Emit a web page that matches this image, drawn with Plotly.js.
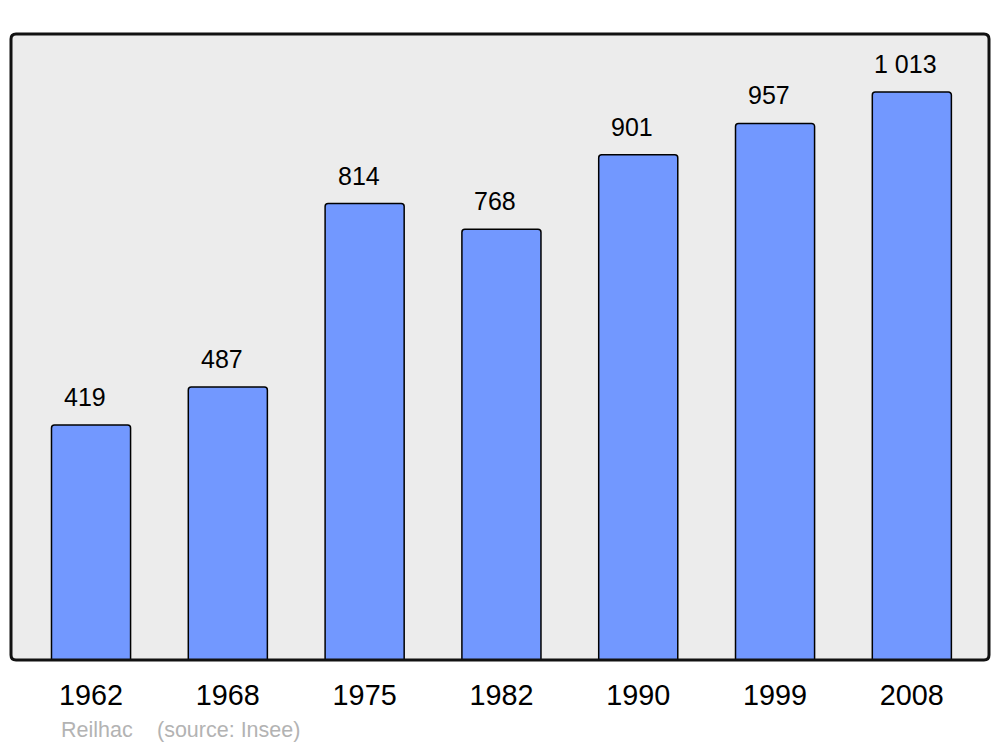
<!DOCTYPE html>
<html><head><meta charset="utf-8">
<script src="https://cdn.plot.ly/plotly-3.0.1.min.js"></script>
<style>html,body{margin:0;padding:0;background:#fff;}#chart{width:1000px;height:747px;}</style>
</head><body><div id="chart"></div>
<script>
const years = ["1962","1968","1975","1982","1990","1999","2008"];
const population = [419, 487, 814, 768, 901, 957, 1013];
const labels = population.map(v => v >= 1000 ? Math.floor(v/1000) + " " + String(v%1000).padStart(3,"0") : String(v));
const townName = "Reilhac";
const sourceText = "(source: Insee)";

const W = 1000, H = 747;
const L = 11, R = 11, T = 34, B = 87;
const pw = W - L - R, ph = H - T - B;
const rx = 5 / pw, ry = 5 / ph;
const framePath = `M ${rx} 0 L ${1-rx} 0 Q 1 0 1 ${ry} L 1 ${1-ry} Q 1 1 ${1-rx} 1 L ${rx} 1 Q 0 1 0 ${1-ry} L 0 ${ry} Q 0 0 ${rx} 0 Z`;
const FONT = "Liberation Sans, Arial, sans-serif";

const trace = {
  type: "bar",
  x: years,
  y: population,
  width: 0.578,
  marker: {color: "#7298FF", line: {color: "#000", width: 1.5}, cornerradius: 3},
  hoverinfo: "none"
};

// category axis: annotation x given as category index
const annotations = years.map((yr, i) => ({
  x: i, y: population[i], xref: "x", yref: "y",
  text: labels[i], showarrow: false, yanchor: "middle", yshift: 28, xshift: -6,
  font: {family: FONT, size: 25, color: "#000"}
}));
const footY = -(730 - T - ph) / ph;
annotations.push({
  xref: "paper", yref: "paper", x: (59 - L) / pw, y: footY,
  xanchor: "left", yanchor: "middle", text: townName, showarrow: false,
  font: {family: FONT, size: 21.5, color: "#b3b3b3"}
});
annotations.push({
  xref: "paper", yref: "paper", x: (155 - L) / pw, y: footY,
  xanchor: "left", yanchor: "middle", text: sourceText, showarrow: false,
  font: {family: FONT, size: 21.5, color: "#b3b3b3"}
});

const layout = {
  width: W, height: H,
  margin: {l: L, r: R, t: T, b: B, pad: 0},
  paper_bgcolor: "#fff",
  plot_bgcolor: "#ECECEC",
  showlegend: false,
  xaxis: {
    type: "category", range: [-0.585, 6.564], fixedrange: true,
    showgrid: false, zeroline: false, showline: false,
    ticks: "outside", ticklen: 9, tickcolor: "rgba(0,0,0,0)",
    tickfont: {family: FONT, size: 28.8, color: "#000"}
  },
  yaxis: {
    range: [0, 1116.4], fixedrange: true,
    showgrid: false, zeroline: false, showline: false,
    showticklabels: false, ticks: ""
  },
  shapes: [{
    type: "path", xref: "paper", yref: "paper", path: framePath,
    line: {color: "#111", width: 3}, fillcolor: "rgba(0,0,0,0)", layer: "above"
  }],
  annotations: annotations
};

Plotly.newPlot("chart", [trace], layout, {displayModeBar: false, staticPlot: true});
</script>
</body></html>
